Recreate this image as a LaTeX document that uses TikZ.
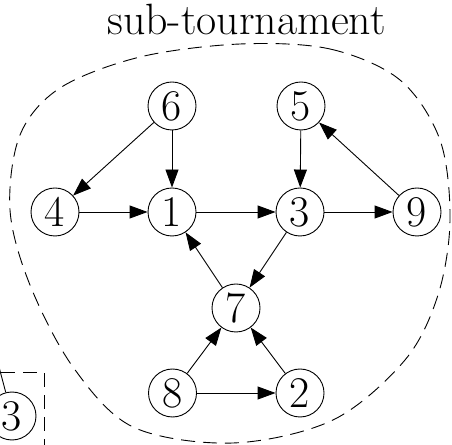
\documentclass[tikz,border=0pt]{standalone}
\usetikzlibrary{arrows.meta}
\begin{document}
\begin{tikzpicture}[x=1bp,y=1bp,
  vert/.style={circle,draw,line width=0.9bp,minimum size=48bp,inner sep=0pt,font=\fontsize{44}{52}\selectfont},
  edge/.style={line width=0.9bp,-{Triangle[length=18bp,width=13bp]}},
  plainedge/.style={line width=0.9bp},
  blob/.style={line width=0.9bp,dash pattern=on 14bp off 8bp},
  title/.style={font=\fontsize{44}{52}\selectfont,anchor=base,inner sep=0pt}]
\useasboundingbox (0,0) rectangle (452,445);
\clip (0,0) rectangle (452,445);
% title
\node[title] (t) at (246.5,410) {sub-tournament};
% blob
\draw[blob] plot[smooth cycle,tension=0.55] coordinates {
  (240,401) (330,396) (400,365) (440,305) (450,225) (438,150) (405,85)
  (333,25) (233,2) (133,18) (73,78) (30,160) (10,235) (20,310) (60,357)
  (140,388)};
% vertices
\node[vert] (n6) at (172,339) {6};
\node[vert] (n5) at (301,339) {5};
\node[vert] (n4) at (55,233) {4};
\node[vert] (n1) at (172,233) {1};
\node[vert] (n3) at (300,233) {3};
\node[vert] (n9) at (417,233) {9};
\node[vert] (n7) at (236,137) {7};
\node[vert] (n8) at (172.5,52) {8};
\node[vert] (n2) at (300,52) {2};
\node[vert] (m3) at (12,29) {3};
% outside part
\coordinate (out) at (-10,112);
\draw[blob] (-50,-30) rectangle (44,73);
\draw[plainedge] (out) -- (m3);
% edges
\draw[edge] (n6) -- (n4);
\draw[edge] (n6) -- (n1);
\draw[edge] (n4) -- (n1);
\draw[edge] (n1) -- (n3);
\draw[edge] (n5) -- (n3);
\draw[edge] (n3) -- (n9);
\draw[edge] (n9) -- (n5);
\draw[edge] (n3) -- (n7);
\draw[edge] (n7) -- (n1);
\draw[edge] (n8) -- (n7);
\draw[edge] (n2) -- (n7);
\draw[edge] (n8) -- (n2);
\end{tikzpicture}
\end{document}
